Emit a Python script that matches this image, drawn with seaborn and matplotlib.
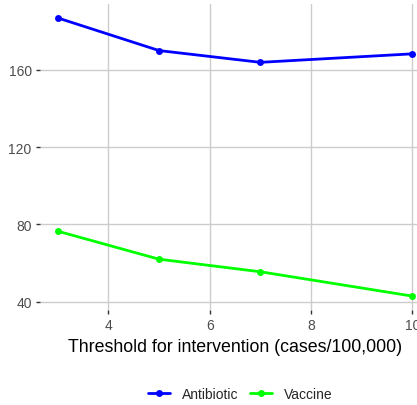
import pandas as pd
import matplotlib
matplotlib.use("Agg")
import matplotlib.pyplot as plt
import seaborn as sns

threshold = [3, 5, 7, 10]
antibiotic = [186.9, 170.0, 163.9, 168.3]
vaccine = [76.5, 62.0, 55.5, 42.9]

df = pd.DataFrame({
    "threshold": threshold * 2,
    "value": antibiotic + vaccine,
    "group": ["Antibiotic"] * 4 + ["Vaccine"] * 4,
})

sns.set_style("whitegrid")
plt.rcParams["font.family"] = ["Liberation Sans", "DejaVu Sans"]

fig = plt.figure(figsize=(4.17, 4.06), dpi=100)
ax = fig.add_axes([40 / 417, 1 - 311 / 406, 390 / 417, 306 / 406])

sns.lineplot(data=df, x="threshold", y="value", hue="group",
             palette={"Antibiotic": "#0000FF", "Vaccine": "#00FF00"},
             marker="o", markersize=5, markeredgewidth=0, linewidth=2,
             ax=ax)

ax.set_xlim(2.65, 10.35)
ax.set_ylim(35.7, 194.1)
ax.set_xticks([4, 6, 8, 10])
ax.set_yticks([40, 80, 120, 160])
ax.grid(True, color="#CCCCCC", linewidth=1)
for s in ax.spines.values():
    s.set_visible(False)
ax.tick_params(axis="both", labelcolor="#4D4D4D", labelsize=10, length=3,
               width=1, direction="out", pad=3, color="#333333",
               bottom=True, left=True)
ax.set_xlabel("Threshold for intervention (cases/100,000)", fontsize=12.8,
              color="black", labelpad=4)
ax.set_ylabel("")

# legend centred under the panel, like ggplot
handles, labels = ax.get_legend_handles_labels()
ax.get_legend().remove()
fig.legend(handles, labels, loc="center",
           bbox_to_anchor=(240 / 417, 1 - 395 / 406),
           ncol=2, frameon=False, fontsize=10, handlelength=1.6,
           columnspacing=0.85, handletextpad=0.85)

fig.savefig("out.png", dpi=100)
